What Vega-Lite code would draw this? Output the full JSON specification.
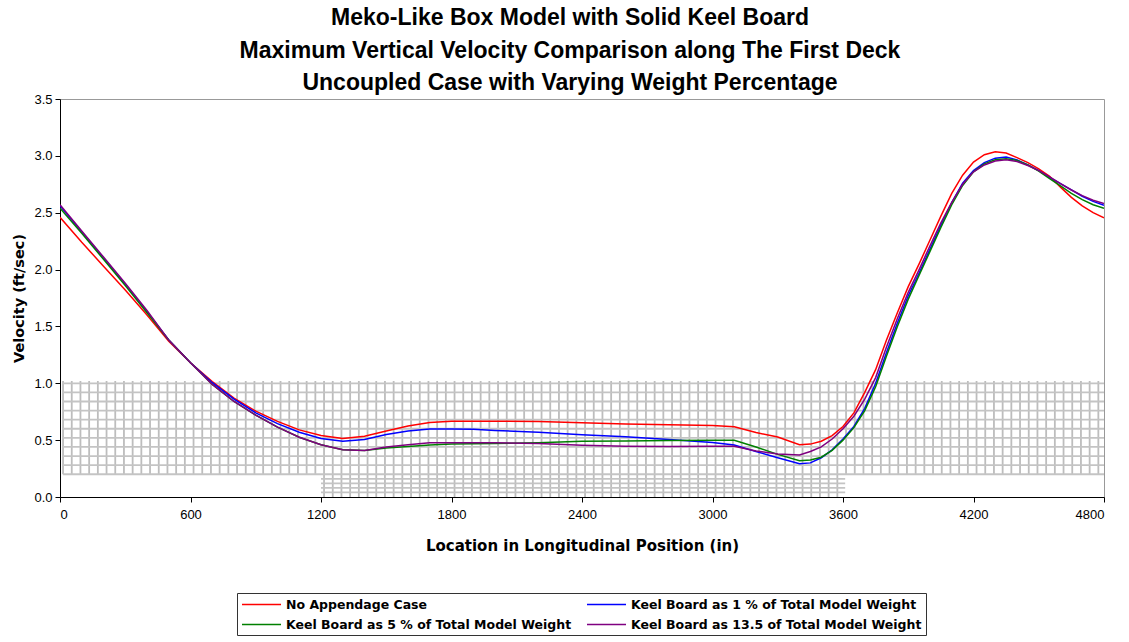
{
  "$schema": "https://vega.github.io/schema/vega-lite/v6.json",
  "autosize": "none",
  "width": 1044,
  "height": 398,
  "padding": {"left": 60, "top": 99, "right": 25, "bottom": 145},
  "background": "white",
  "config": {
    "font": "Liberation Sans",
    "view": {"stroke": "#999999", "strokeWidth": 1},
    "axis": {"labelFont": "Liberation Sans", "titleFont": "DejaVu Sans", "labelColor": "black", "titleColor": "black", "tickColor": "black", "domainColor": "black", "grid": false, "labelFontSize": 13, "titleFontSize": 14.5, "titleFontWeight": "bold", "tickSize": 5}
  },
  "title": {
    "text": ["Meko-Like Box Model with Solid Keel Board", "Maximum Vertical Velocity Comparison along The First Deck", "Uncoupled Case with Varying Weight Percentage"],
    "fontSize": 23, "fontWeight": "bold", "font": "Liberation Sans", "color": "black",
    "lineHeight": 32.5, "anchor": "middle", "dx": -12, "offset": -2
  },
  "datasets": {
    "curves": [
      {"x": 0, "r": 2.46, "b": 2.56, "g": 2.54, "p": 2.57},
      {"x": 100, "r": 2.24, "b": 2.33, "g": 2.32, "p": 2.34},
      {"x": 200, "r": 2.03, "b": 2.10, "g": 2.09, "p": 2.11},
      {"x": 300, "r": 1.82, "b": 1.87, "g": 1.86, "p": 1.88},
      {"x": 400, "r": 1.60, "b": 1.63, "g": 1.62, "p": 1.64},
      {"x": 500, "r": 1.37, "b": 1.38, "g": 1.38, "p": 1.38},
      {"x": 600, "r": 1.18, "b": 1.18, "g": 1.18, "p": 1.18},
      {"x": 700, "r": 1.015, "b": 1.005, "g": 0.99, "p": 0.99},
      {"x": 800, "r": 0.87, "b": 0.86, "g": 0.84, "p": 0.84},
      {"x": 900, "r": 0.755, "b": 0.74, "g": 0.72, "p": 0.72},
      {"x": 1000, "r": 0.665, "b": 0.645, "g": 0.615, "p": 0.615},
      {"x": 1100, "r": 0.59, "b": 0.57, "g": 0.525, "p": 0.525},
      {"x": 1200, "r": 0.54, "b": 0.515, "g": 0.46, "p": 0.46},
      {"x": 1300, "r": 0.515, "b": 0.49, "g": 0.415, "p": 0.415},
      {"x": 1400, "r": 0.535, "b": 0.505, "g": 0.41, "p": 0.41},
      {"x": 1500, "r": 0.58, "b": 0.55, "g": 0.43, "p": 0.44},
      {"x": 1600, "r": 0.625, "b": 0.58, "g": 0.445, "p": 0.46},
      {"x": 1700, "r": 0.655, "b": 0.598, "g": 0.457, "p": 0.478},
      {"x": 1800, "r": 0.666, "b": 0.598, "g": 0.466, "p": 0.478},
      {"x": 1900, "r": 0.667, "b": 0.596, "g": 0.468, "p": 0.478},
      {"x": 2000, "r": 0.667, "b": 0.585, "g": 0.47, "p": 0.478},
      {"x": 2200, "r": 0.665, "b": 0.57, "g": 0.476, "p": 0.47},
      {"x": 2400, "r": 0.652, "b": 0.548, "g": 0.49, "p": 0.455},
      {"x": 2600, "r": 0.642, "b": 0.53, "g": 0.493, "p": 0.447},
      {"x": 2800, "r": 0.636, "b": 0.505, "g": 0.497, "p": 0.445},
      {"x": 3000, "r": 0.628, "b": 0.48, "g": 0.50, "p": 0.447},
      {"x": 3100, "r": 0.618, "b": 0.457, "g": 0.498, "p": 0.447},
      {"x": 3200, "r": 0.567, "b": 0.40, "g": 0.44, "p": 0.405},
      {"x": 3300, "r": 0.527, "b": 0.345, "g": 0.375, "p": 0.378},
      {"x": 3400, "r": 0.46, "b": 0.292, "g": 0.318, "p": 0.37},
      {"x": 3450, "r": 0.465, "b": 0.30, "g": 0.325, "p": 0.40},
      {"x": 3500, "r": 0.49, "b": 0.345, "g": 0.35, "p": 0.44},
      {"x": 3550, "r": 0.54, "b": 0.415, "g": 0.41, "p": 0.51},
      {"x": 3600, "r": 0.62, "b": 0.51, "g": 0.50, "p": 0.60},
      {"x": 3650, "r": 0.74, "b": 0.62, "g": 0.61, "p": 0.71},
      {"x": 3700, "r": 0.92, "b": 0.78, "g": 0.76, "p": 0.86},
      {"x": 3750, "r": 1.12, "b": 1.0, "g": 0.97, "p": 1.05},
      {"x": 3800, "r": 1.38, "b": 1.27, "g": 1.24, "p": 1.32},
      {"x": 3850, "r": 1.62, "b": 1.53, "g": 1.50, "p": 1.57},
      {"x": 3900, "r": 1.85, "b": 1.77, "g": 1.74, "p": 1.80},
      {"x": 3950, "r": 2.05, "b": 1.97, "g": 1.95, "p": 2.0},
      {"x": 4000, "r": 2.26, "b": 2.18, "g": 2.16, "p": 2.21},
      {"x": 4050, "r": 2.47, "b": 2.39, "g": 2.37, "p": 2.41},
      {"x": 4100, "r": 2.67, "b": 2.59, "g": 2.57, "p": 2.59},
      {"x": 4150, "r": 2.83, "b": 2.76, "g": 2.74, "p": 2.75},
      {"x": 4200, "r": 2.945, "b": 2.87, "g": 2.86, "p": 2.86},
      {"x": 4250, "r": 3.01, "b": 2.94, "g": 2.93, "p": 2.92},
      {"x": 4300, "r": 3.035, "b": 2.98, "g": 2.965, "p": 2.955},
      {"x": 4350, "r": 3.025, "b": 2.99, "g": 2.975, "p": 2.965},
      {"x": 4400, "r": 2.985, "b": 2.965, "g": 2.96, "p": 2.95},
      {"x": 4450, "r": 2.94, "b": 2.92, "g": 2.92, "p": 2.915},
      {"x": 4500, "r": 2.885, "b": 2.87, "g": 2.865, "p": 2.87},
      {"x": 4550, "r": 2.82, "b": 2.81, "g": 2.80, "p": 2.815},
      {"x": 4600, "r": 2.725, "b": 2.755, "g": 2.735, "p": 2.755},
      {"x": 4650, "r": 2.635, "b": 2.70, "g": 2.67, "p": 2.70},
      {"x": 4700, "r": 2.56, "b": 2.645, "g": 2.615, "p": 2.65},
      {"x": 4750, "r": 2.50, "b": 2.60, "g": 2.57, "p": 2.61},
      {"x": 4800, "r": 2.455, "b": 2.565, "g": 2.54, "p": 2.58}
    ],
    "vmesh": [
      {"v": 14}, {"v": 54}, {"v": 94}, {"v": 134}, {"v": 174}, {"v": 214}, {"v": 254}, {"v": 294}, {"v": 334}, {"v": 374},
      {"v": 414}, {"v": 454}, {"v": 494}, {"v": 534}, {"v": 574}, {"v": 614}, {"v": 654}, {"v": 694}, {"v": 734}, {"v": 774},
      {"v": 814}, {"v": 854}, {"v": 894}, {"v": 934}, {"v": 974}, {"v": 1014}, {"v": 1054}, {"v": 1094}, {"v": 1134}, {"v": 1174},
      {"v": 1214}, {"v": 1254}, {"v": 1294}, {"v": 1334}, {"v": 1374}, {"v": 1414}, {"v": 1454}, {"v": 1494}, {"v": 1534}, {"v": 1574},
      {"v": 1614}, {"v": 1654}, {"v": 1694}, {"v": 1734}, {"v": 1774}, {"v": 1814}, {"v": 1854}, {"v": 1894}, {"v": 1934}, {"v": 1974},
      {"v": 2014}, {"v": 2054}, {"v": 2094}, {"v": 2134}, {"v": 2174}, {"v": 2214}, {"v": 2254}, {"v": 2294}, {"v": 2334}, {"v": 2374},
      {"v": 2414}, {"v": 2454}, {"v": 2494}, {"v": 2534}, {"v": 2574}, {"v": 2614}, {"v": 2654}, {"v": 2694}, {"v": 2734}, {"v": 2774},
      {"v": 2814}, {"v": 2854}, {"v": 2894}, {"v": 2934}, {"v": 2974}, {"v": 3014}, {"v": 3054}, {"v": 3094}, {"v": 3134}, {"v": 3174},
      {"v": 3214}, {"v": 3254}, {"v": 3294}, {"v": 3334}, {"v": 3374}, {"v": 3414}, {"v": 3454}, {"v": 3494}, {"v": 3534}, {"v": 3574},
      {"v": 3614}, {"v": 3654}, {"v": 3694}, {"v": 3734}, {"v": 3774}, {"v": 3814}, {"v": 3854}, {"v": 3894}, {"v": 3934}, {"v": 3974},
      {"v": 4014}, {"v": 4054}, {"v": 4094}, {"v": 4134}, {"v": 4174}, {"v": 4214}, {"v": 4254}, {"v": 4294}, {"v": 4334}, {"v": 4374},
      {"v": 4414}, {"v": 4454}, {"v": 4494}, {"v": 4534}, {"v": 4574}, {"v": 4614}, {"v": 4654}, {"v": 4694}, {"v": 4734}, {"v": 4774}
    ],
    "hmesh": [
      {"h": 0.2}, {"h": 0.28}, {"h": 0.36}, {"h": 0.44}, {"h": 0.52}, {"h": 0.6}, {"h": 0.68}, {"h": 0.76}, {"h": 0.84}, {"h": 0.92}, {"h": 1.0}
    ],
    "hsmall": [
      {"h": 0.04}, {"h": 0.08}, {"h": 0.12}, {"h": 0.16}
    ]
  },
  "layer": [
    {
      "mark": {"type": "rect", "fill": "#f4f4f4", "stroke": "#d0d0d0", "strokeWidth": 1.5},
      "encoding": {
        "x": {"datum": 14, "type": "quantitative", "scale": {"domain": [0, 4800], "nice": false}},
        "x2": {"datum": 4800},
        "y": {"datum": 0.2, "type": "quantitative", "scale": {"domain": [0, 3.5], "nice": false}},
        "y2": {"datum": 1.02}
      }
    },
    {
      "mark": {"type": "rect", "fill": "#f4f4f4", "stroke": "#d0d0d0", "strokeWidth": 1.5},
      "encoding": {
        "x": {"datum": 1200, "type": "quantitative"},
        "x2": {"datum": 3610},
        "y": {"datum": 0, "type": "quantitative"},
        "y2": {"datum": 0.2}
      }
    },
    {
      "data": {"name": "vmesh"},
      "mark": {"type": "rule", "color": "#bdbdbd", "strokeWidth": 1.8},
      "encoding": {
        "x": {"field": "v", "type": "quantitative"},
        "y": {"datum": 0.2, "type": "quantitative"},
        "y2": {"datum": 1.02}
      }
    },
    {
      "data": {"name": "vmesh"},
      "transform": [{"filter": "datum.v >= 1200 && datum.v <= 3610"}],
      "mark": {"type": "rule", "color": "#bdbdbd", "strokeWidth": 1.8},
      "encoding": {
        "x": {"field": "v", "type": "quantitative"},
        "y": {"datum": 0, "type": "quantitative"},
        "y2": {"datum": 0.2}
      }
    },
    {
      "data": {"name": "hmesh"},
      "mark": {"type": "rule", "color": "#c4c4c4", "strokeWidth": 1.8},
      "encoding": {
        "y": {"field": "h", "type": "quantitative"},
        "x": {"datum": 14, "type": "quantitative"},
        "x2": {"datum": 4800}
      }
    },
    {
      "data": {"name": "hsmall"},
      "mark": {"type": "rule", "color": "#c4c4c4", "strokeWidth": 1.8},
      "encoding": {
        "y": {"field": "h", "type": "quantitative"},
        "x": {"datum": 1200, "type": "quantitative"},
        "x2": {"datum": 3610}
      }
    },
    {
      "data": {"name": "curves"},
      "transform": [{"fold": ["r", "b", "g", "p"], "as": ["series", "vel"]}],
      "mark": {"type": "line", "strokeWidth": 1.5, "clip": true},
      "encoding": {
        "x": {"field": "x", "type": "quantitative",
          "axis": {"title": "Location in Longitudinal Position (in)", "values": [0, 600, 1200, 1800, 2400, 3000, 3600, 4200, 4800], "format": "d", "labelPadding": 6, "titlePadding": 17, "titleFontSize": 15}},
        "y": {"field": "vel", "type": "quantitative",
          "axis": {"title": "Velocity (ft/sec)", "values": [0, 0.5, 1, 1.5, 2, 2.5, 3, 3.5], "format": ".1f", "labelPadding": 3, "titlePadding": 7, "titleFontSize": 14.5}},
        "color": {"field": "series", "type": "nominal",
          "scale": {"domain": ["r", "g", "b", "p"], "range": ["#ff0000", "#008000", "#0000ff", "#800080"]},
          "legend": {
            "title": null, "orient": "none", "legendX": 177, "legendY": 494, "columns": 2, "columnPadding": 12, "rowPadding": 6,
            "symbolType": "M-1,0H5", "symbolSize": 169, "symbolStrokeWidth": 1.5, "labelOffset": 30, "labelLimit": 500,
            "labelFont": "DejaVu Sans", "labelFontSize": 12.5, "labelFontWeight": "bold", "labelColor": "black",
            "strokeColor": "#333333", "padding": 4, "fillColor": "white",
            "labelExpr": "datum.value == 'r' ? 'No Appendage Case' : datum.value == 'b' ? 'Keel Board as 1 % of Total Model Weight' : datum.value == 'g' ? 'Keel Board as 5 % of Total Model Weight' : 'Keel Board as 13.5 of Total Model Weight'"
          }},
        "order": {"field": "x", "type": "quantitative"}
      }
    }
  ]
}
